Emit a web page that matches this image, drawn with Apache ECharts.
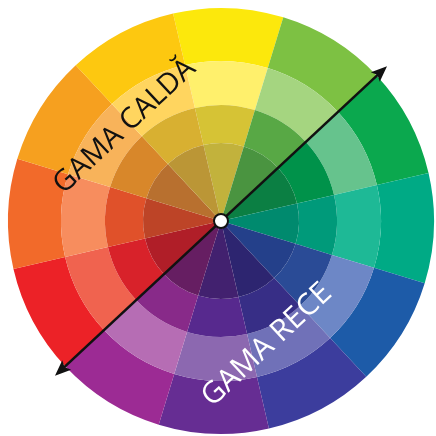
<!DOCTYPE html>
<html>
<head>
<meta charset="utf-8">
<script src="https://cdn.jsdelivr.net/npm/echarts@6/dist/echarts.min.js"></script>
<style>
html,body{margin:0;padding:0;background:#fff;}
#c{width:436px;height:436px;}
</style>
</head>
<body>
<div id="c"></div>
<script>
// Data
const hues = ['Galben','Galben-verde','Verde','Verde-albastru','Albastru','Albastru-violet','Violet','Violet-roșu','Roșu','Roșu-portocaliu','Portocaliu','Galben-portocaliu'];
const sectorShare = [1,1,1,1,1,1,1,1,1,1,1,1];
const rings = ['pur','nuanță deschisă','ton','umbră'];
const warmLabel = 'GAMA CALDĂ';
const coolLabel = 'GAMA RECE';

// Palettes (styles)
const pureColors  = ['#FCE80C','#7DC143','#0BA84E','#00AA85','#1D5BA8','#3C3D9D','#662D93','#9C2B94','#EC2227','#F26A2A','#F6A01F','#FDC810'];
const tintColors  = ['#FFF06C','#A5D580','#66C38D','#1EB996','#6D87C6','#7071B8','#8C68B0','#B66DB4','#F0634F','#F78D5E','#F8B35A','#FFD55F'];
const toneColors  = ['#D6C335','#58A845','#00924A','#009A7A','#2A4B96','#372E86','#57298E','#882A89','#D8222A','#E0512A','#D8872A','#D8B031'];
const shadeColors = ['#C2B23C','#4A9440','#0B7F43','#008A6E','#24408A','#2D2570','#42216F','#661E62','#B01E28','#BD4427','#B8702F','#BB9636'];

const CX = 221, CY = 221;
const radii = [[160,213],[116,160],[78,116],[0,78]];
const palettes = [pureColors, tintColors, toneColors, shadeColors];

const series = rings.map((r, i) => ({
  type: 'pie',
  name: r,
  center: [CX, CY],
  radius: radii[i],
  startAngle: 103,
  clockwise: true,
  silent: true,
  animation: false,
  label: {show: false},
  labelLine: {show: false},
  emphasis: {disabled: true},
  itemStyle: {borderWidth: 0},
  data: hues.map((h, k) => ({name: h, value: sectorShare[k], itemStyle: {color: palettes[i][k]}}))
}));

// arrow geometry
const ang = 43 * Math.PI / 180;
const u = [Math.cos(ang), -Math.sin(ang)];
const n = [Math.sin(ang), Math.cos(ang)];
const L = 227, head = 16, halfW = 6.5, notch = 3;
function pt(a, p) { return [CX + a*u[0] + p*n[0], CY + a*u[1] + p*n[1]]; }
function arrowHead(sign) {
  const tip = pt(sign*L, 0);
  const c1 = pt(sign*(L-head), halfW);
  const nt = pt(sign*(L-head+notch), 0);
  const c2 = pt(sign*(L-head), -halfW);
  return {type:'polygon', z:100, shape:{points:[tip,c1,nt,c2]}, style:{fill:'#111'}};
}
const lineA = pt(-(L-head+notch+1), 0), lineB = pt(L-head+notch+1, 0);

const warmPos = pt(-6, -135);
const coolPos = pt(-51, 122);

const option = {
  animation: false,
  series: series,
  graphic: {elements: [
    {type:'line', z:100, shape:{x1:lineA[0], y1:lineA[1], x2:lineB[0], y2:lineB[1]}, style:{stroke:'#111', lineWidth:2.6}},
    arrowHead(1), arrowHead(-1),
    {type:'circle', z:101, shape:{cx:CX, cy:CY, r:7}, style:{fill:'#fff', stroke:'#111', lineWidth:2}},
    {type:'text', z:101, x:warmPos[0], y:warmPos[1], rotation:ang,
      style:{text:warmLabel, fill:'#111', font:'29px "Open Sans", sans-serif', align:'center', verticalAlign:'middle', textAlign:'center', textVerticalAlign:'middle'}},
    {type:'text', z:101, x:coolPos[0], y:coolPos[1], rotation:ang,
      style:{text:coolLabel, fill:'#fff', font:'30px "Open Sans", sans-serif', align:'center', verticalAlign:'middle', textAlign:'center', textVerticalAlign:'middle'}}
  ]}
};
const chart = echarts.init(document.getElementById('c'), null, {renderer:'canvas'});
chart.setOption(option);
</script>
</body>
</html>
